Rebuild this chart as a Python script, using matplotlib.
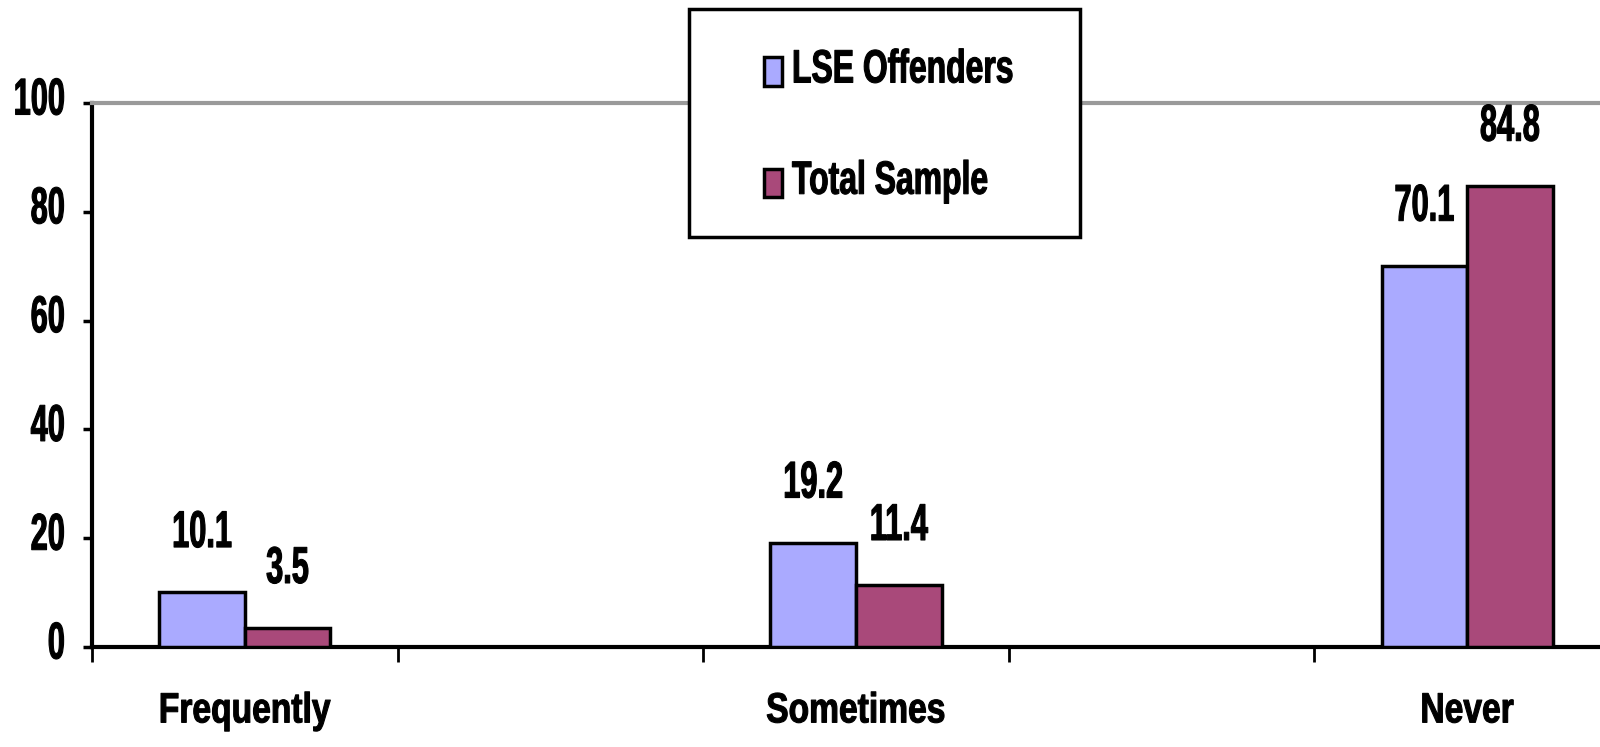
import matplotlib
matplotlib.use('Agg')
import matplotlib.pyplot as plt
import numpy as np
from matplotlib import font_manager as fm
from matplotlib.patheffects import AbstractPathEffect
from matplotlib.transforms import Affine2D
from matplotlib.patches import Rectangle, Patch

# ---- data ----
categories = ['Frequently', 'Sometimes', 'Never']
series_names = ['LSE Offenders', 'Total Sample']
lse_offenders = [10.1, 19.2, 70.1]
total_sample = [3.5, 11.4, 84.8]
yticks = [0, 20, 40, 60, 80, 100]

# ---- style ----
BLUE = '#AAAAFF'
RED = '#A9497A'
names = {f.name for f in fm.fontManager.ttflist}
if 'Liberation Sans Narrow' in names:
    FONT = ['Liberation Sans Narrow', 'DejaVu Sans']
    k = 1.0
else:
    FONT = ['Liberation Sans', 'DejaVu Sans']
    k = 0.82
plt.rcParams['font.family'] = FONT
plt.rcParams['font.weight'] = 'bold'


class VStretch(AbstractPathEffect):
    """Stretch glyphs vertically about the baseline and embolden slightly."""
    def __init__(self, sy, lw=0.0):
        super().__init__()
        self.sy = sy
        self.lw = lw

    def draw_path(self, renderer, gc, tpath, affine, rgbFace=None):
        gc0 = renderer.new_gc()
        gc0.copy_properties(gc)
        if self.lw > 0 and rgbFace is not None:
            gc0.set_linewidth(self.lw)
            gc0.set_foreground(rgbFace)
            gc0.set_joinstyle('round')
        renderer.draw_path(gc0, tpath, Affine2D().scale(1, self.sy) + affine, rgbFace)
        gc0.restore()


W, H = 1600, 747
fig = plt.figure(figsize=(W / 100, H / 100), dpi=100)
left_px, right_px, top_px, bot_px = 92, 1620, 103, 647
ax = fig.add_axes([left_px / W, 1 - bot_px / H, (right_px - left_px) / W, (bot_px - top_px) / H])

# categories occupy every other slot
x = np.arange(len(categories)) * 2
bw = 0.28
ax.bar(x - bw / 2, lse_offenders, bw, color=BLUE, edgecolor='black', linewidth=2.5, zorder=3,
       label=series_names[0])
ax.bar(x + bw / 2, total_sample, bw, color=RED, edgecolor='black', linewidth=2.5, zorder=3,
       label=series_names[1])

num_size = 27.0 * k
num_stretch = 1.38 / k
EMB = 0.8
for xi, v in zip(x - bw / 2, lse_offenders):
    ax.annotate(f'{v:.1f}', (xi, v), xytext=(0, 32.4), textcoords='offset points',
                ha='center', va='baseline', fontsize=num_size, fontweight='bold',
                path_effects=[VStretch(num_stretch, EMB)], zorder=4)
for xi, v in zip(x + bw / 2, total_sample):
    ax.annotate(f'{v:.1f}', (xi, v), xytext=(0, 32.4), textcoords='offset points',
                ha='center', va='baseline', fontsize=num_size, fontweight='bold',
                path_effects=[VStretch(num_stretch, EMB)], zorder=4)

ax.set_xlim(-0.5, 2 * len(categories) - 1.5)
ax.set_ylim(0, 100)

# y axis
ax.set_yticks(yticks)
ax.set_yticklabels([str(t) for t in yticks])
ax.tick_params(axis='y', direction='out', length=6.5, width=2.5, pad=13, labelsize=num_size)
for t in ax.get_yticklabels():
    t.set_fontweight('bold')
    t.set_path_effects([VStretch(num_stretch, EMB)])

# x axis: boundary ticks (major, unlabeled), category labels (minor)
ax.set_xticks(np.arange(-0.5, 2 * len(categories) - 1, 1.0))
ax.set_xticklabels([])
ax.tick_params(axis='x', which='major', direction='out', length=11, width=2)
ax.set_xticks(x, minor=True)
ax.set_xticklabels(categories, minor=True)
ax.tick_params(axis='x', which='minor', length=0, pad=37, labelsize=29.5 * k)
for t in ax.get_xticklabels(minor=True):
    t.set_fontweight('bold')
    t.set_path_effects([VStretch(1.03 / k, EMB)])

for s in ['left', 'bottom']:
    ax.spines[s].set_linewidth(3)
    ax.spines[s].set_color('black')
ax.spines['top'].set_color('#9A9A9A')
ax.spines['top'].set_linewidth(3)
ax.spines['right'].set_visible(False)

# legend box
bx0, by0, bx1, by1 = 689, 9, 1080, 237
fig.add_artist(Rectangle((bx0 / W, 1 - by1 / H), (bx1 - bx0) / W, (by1 - by0) / H,
                         transform=fig.transFigure, facecolor='white', edgecolor='black',
                         linewidth=2.5, zorder=5))
leg_size = 28.0 * k
fs_px = leg_size * 100 / 72
handles = [Patch(facecolor=BLUE, edgecolor='black', linewidth=2.5),
           Patch(facecolor=RED, edgecolor='black', linewidth=2.5)]
leg = fig.legend(handles, series_names, loc='center left',
                 bbox_to_anchor=(764 / W, 1 - 129 / H), frameon=False,
                 borderpad=0, borderaxespad=0,
                 handlelength=18 / fs_px, handleheight=32 / fs_px,
                 handletextpad=10 / fs_px, labelspacing=2.48,
                 prop={'size': leg_size, 'weight': 'bold'})
leg.set_zorder(6)
for t in leg.get_texts():
    t.set_path_effects([VStretch(1.2 / k, EMB)])

fig.savefig('out.png', dpi=100)
